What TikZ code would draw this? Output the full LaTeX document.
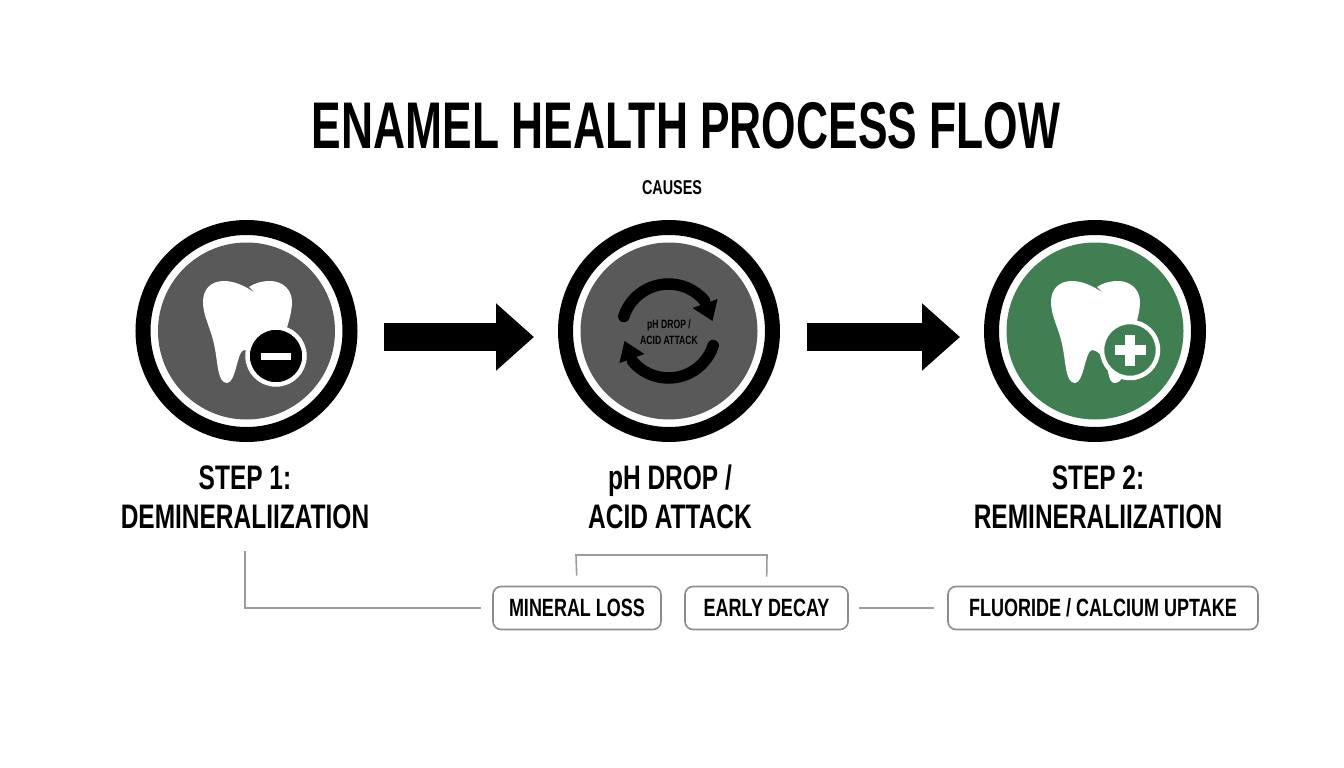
\documentclass[tikz,border=0pt]{standalone}
\usepackage{fontspec}
\setmainfont{Liberation Sans}[FakeStretch=0.72]
\newfontfamily\titlefont{Liberation Sans}[FakeStretch=0.672]
\usetikzlibrary{positioning,calc,arrows.meta}

\definecolor{discgray}{HTML}{595959}
\definecolor{discgreen}{HTML}{3F7F52}
\definecolor{wiregray}{HTML}{9C9C9C}
\definecolor{boxgray}{HTML}{8C8C8C}

\tikzset{
    ring/.style={circle, draw=black, fill=white, line width=15pt, inner sep=0pt, minimum size=207pt},
    disc/.style={circle, fill=#1, inner sep=0pt, minimum size=177pt},
    steplabel/.style={align=center, font=\fontsize{34}{39}\selectfont\bfseries, text=black},
    tagbox/.style={draw=boxgray, line width=1.6pt, rounded corners=8pt, fill=white, minimum height=43pt, inner xsep=0pt, font=\fontsize{25}{30}\selectfont\bfseries},
    wire/.style={draw=wiregray, line width=1.6pt},
    bigarrow/.style={line width=28pt, -{Triangle[length=38pt,width=65pt]}},
    toothshape/.pic={
        \fill[white] (-23,-50) .. controls (-14,-50) and (-3,-46) .. (8,-38)
            .. controls (6,-40) and (4,-42) .. (2,-44)
            .. controls (8,-48) and (15,-50) .. (23,-50)
            .. controls (36,-50) and (45,-41) .. (45,-29)
            .. controls (45,-15) and (38,0) .. (35,15)
            .. controls (33,30) and (30,52) .. (20,52)
            .. controls (13,52) and (14,40) .. (11,33)
            .. controls (8,25) and (2,19) .. (-3,19)
            .. controls (-10,20) and (-11,52) .. (-20,52)
            .. controls (-30,52) and (-29,30) .. (-33,13)
            .. controls (-36,-2) and (-44,-15) .. (-44,-29)
            .. controls (-44,-42) and (-36,-50) .. (-23,-50) -- cycle;
    }
}

\begin{document}
\begin{tikzpicture}[x=1pt,y=-1pt]
    \useasboundingbox (0,0) rectangle (1344,768);

    % title
    \node (title) at (686,126) {\fontsize{66}{70}\selectfont\titlefont\bfseries ENAMEL HEALTH PROCESS FLOW};
    \node (causes) at (672,188) {\fontsize{20}{22}\selectfont\bfseries CAUSES};

    % three discs
    \node[ring] (step1) at (246.5,331) {};
    \node[disc=discgray] (disc1) at (step1.center) {};
    \node[ring] (drop) at (669,331) {};
    \node[disc=discgray] (disc2) at (drop.center) {};
    \node[ring] (step2) at (1095,331) {};
    \node[disc=discgreen] (disc3) at (step2.center) {};

    % big arrows
    \draw[bigarrow, shorten <=26pt, shorten >=24pt] ($(step1.east)+(0,6)$) -- ($(drop.west)+(0,6)$);
    \draw[bigarrow, shorten <=27pt, shorten >=24pt] ($(drop.east)+(0,6)$) -- ($(step2.west)+(0,6)$);

    % left tooth
    \pic at (247,331) {toothshape};
    \node[circle, fill=black, draw=white, line width=4.5pt, minimum size=57pt, inner sep=0pt] (minus) at (276,356) {};
    \fill[white] (261,352.5) rectangle (291,359.5);

    % right tooth
    \pic at (1095,331) {toothshape};
    \node[circle, fill=discgreen, draw=white, line width=4.5pt, minimum size=56pt, inner sep=0pt] (plus) at (1130,350) {};
    \fill[white] (1114.5,345) rectangle (1145.5,355);
    \fill[white] (1125,334.5) rectangle (1135,365.5);

    % cycle arrows
    \foreach \a in {0,180} {
        \begin{scope}[shift={(668.5,331)}, rotate=\a]
            \draw[line width=11.5pt, line cap=round] (162:47 and -47) arc[start angle=-162, end angle=-40, radius=47];
            \fill (49,-32) -- (24,-23) -- (44,-10) -- cycle;
        \end{scope}
    }
    \node[align=center, inner sep=0pt, font=\fontsize{12}{16}\selectfont\bfseries] (dropin) at (669,332) {pH DROP /\\ACID ATTACK};

    % labels
    \node[steplabel] (demin) at (245,497) {STEP 1:\\DEMINERALIIZATION};
    \node[steplabel] (acid) at (670,497) {pH DROP /\\ACID ATTACK};
    \node[steplabel] (remin) at (1098,497) {STEP 2:\\REMINERALIIZATION};

    % boxes
    \node[tagbox, minimum width=168pt] (loss) at (577,608) {MINERAL LOSS};
    \node[tagbox, minimum width=163pt] (decay) at (766.5,608) {EARLY DECAY};
    \node[tagbox, minimum width=310pt] (uptake) at (1103,608) {FLUORIDE / CALCIUM UPTAKE};

    % connectors
    \coordinate (brL) at (576,555);
    \coordinate (brR) at (767,555);
    \draw[wire, shorten <=10pt, shorten >=9pt] (loss.north) -- (brL) -- (brR) -- (decay.north);
    \draw[wire, shorten <=19pt, shorten >=11pt] (demin.south) |- (loss.west);
    \draw[wire, shorten <=10pt, shorten >=13pt] (decay.east) -- (uptake.west);
\end{tikzpicture}
\end{document}
